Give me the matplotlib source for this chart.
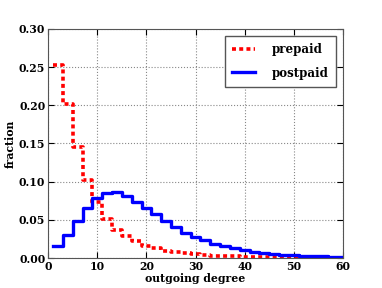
import numpy as np
import matplotlib
matplotlib.use("Agg")
from matplotlib import pyplot as plt

# left edges of the 2-wide degree bins
bin_left = list(range(1, 61, 2))

prepaid = [0.252, 0.201, 0.145, 0.102, 0.073, 0.051, 0.037, 0.029, 0.022, 0.016,
           0.0125, 0.0098, 0.0075, 0.0060, 0.0047, 0.0038, 0.0032, 0.0027, 0.0023, 0.0020,
           0.0018, 0.0016, 0.0014, 0.0012, 0.0011, 0.0010, 0.0009, 0.0008, 0.0007, 0.0006]

postpaid = [0.016, 0.030, 0.049, 0.065, 0.078, 0.085, 0.086, 0.081, 0.073, 0.066,
            0.057, 0.048, 0.040, 0.033, 0.027, 0.023, 0.019, 0.0155, 0.0125, 0.0100,
            0.0080, 0.0065, 0.0050, 0.0042, 0.0036, 0.0030, 0.0026, 0.0022, 0.0018, 0.0014]

x_ticks = [0, 10, 20, 30, 40, 50, 60]
y_ticks = [0.00, 0.05, 0.10, 0.15, 0.20, 0.25, 0.30]

plt.rcParams['font.family'] = ['DejaVu Serif']
plt.rcParams['font.weight'] = 'bold'

fig = plt.figure(figsize=(3.82, 2.88), dpi=100)
ax = fig.add_axes([0.126, 0.104, 0.772, 0.796])

# close the last bin at x=61 so the step reaches the axis edge
edges = bin_left + [bin_left[-1] + 2]
ax.step(edges, prepaid + [prepaid[-1]], where='post', color='#ff0000', lw=2.6,
        linestyle=(0, (1.1, 0.9)), label='prepaid')
ax.step(edges, postpaid + [postpaid[-1]], where='post', color='#0000ff', lw=2.4,
        label='postpaid')

ax.set_xlim(0, 60)
ax.set_ylim(0, 0.30)
ax.set_xticks(x_ticks)
ax.set_yticks(y_ticks)
ax.set_yticklabels(['%.2f' % v for v in y_ticks])
ax.grid(True, color='#888888', linestyle=':', lw=0.8)
ax.tick_params(direction='in', length=4, top=True, right=True, labelsize=7.8, pad=2)
for s in ax.spines.values():
    s.set_color('#555555')

ax.set_xlabel('outgoing degree', fontsize=7.8, fontweight='bold', labelpad=1)
ax.set_ylabel('fraction', fontsize=7.8, fontweight='bold', labelpad=2)

leg = ax.legend(loc='upper right', fontsize=8.5, fancybox=False, framealpha=1,
                edgecolor='#555555', handlelength=2.0, borderpad=0.6,
                labelspacing=0.9, handletextpad=1.4, borderaxespad=0.6)
leg.get_frame().set_linewidth(1.0)

fig.savefig('out.png', dpi=100)
